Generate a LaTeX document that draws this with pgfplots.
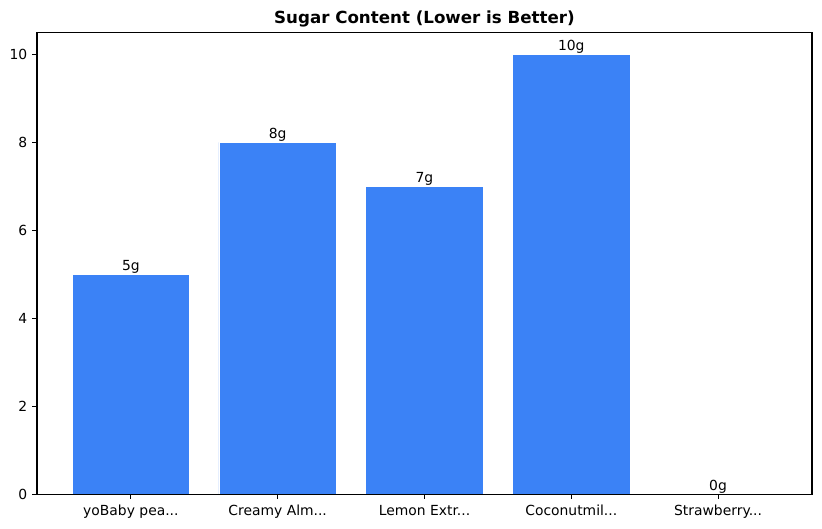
\documentclass[border=0pt]{standalone}
\usepackage{fontspec}
\setmainfont{DejaVu Sans}
\usepackage{pgfplots}
\pgfplotsset{compat=1.18}
\definecolor{barblue}{HTML}{3B82F6}
\newcommand\trunc{...}
\begin{document}
\begin{tikzpicture}
\begin{axis}[
    scale only axis,
    width=558pt, height=332.3pt,
    xmin=-0.64, xmax=4.64,
    ymin=0, ymax=10.5,
    xtick=data,
    xticklabels={yoBaby pea\trunc, Creamy Alm\trunc, Lemon Extr\trunc, Coconutmil\trunc, Strawberry\trunc},
    ytick={0,2,4,6,8,10},
    tick pos=left,
    tick align=outside,
    major tick length=3.5pt,
    tick style={black, line width=0.8pt},
    axis line style={line width=0.8pt},
    axis on top,
    /pgf/number format/assume math mode=true,
    ticklabel style={font=\fontsize{10}{12}\selectfont},
    xticklabel style={yshift=-1pt},
    title={\textbf{Sugar Content (Lower is Better)}},
    title style={font=\fontsize{12}{14}\selectfont, yshift=-6pt},
    ybar, bar width=0.8, bar shift=0pt,
    nodes near coords={\pgfmathprintnumber{\pgfplotspointmeta}g},
    nodes near coords style={font=\fontsize{10}{12}\selectfont, black, inner sep=0pt, yshift=0.5pt},
]
\addplot[fill=barblue, draw=white, line width=0.4pt] coordinates {
(0,5) (1,8) (2,7) (3,10) (4,0)
};
\end{axis}
\pgfresetboundingbox
\path ([shift={(-26.6pt,-24.5pt)}]current axis.south west) rectangle ([shift={(7.2pt,23.4pt)}]current axis.north east);
\end{tikzpicture}
\end{document}
